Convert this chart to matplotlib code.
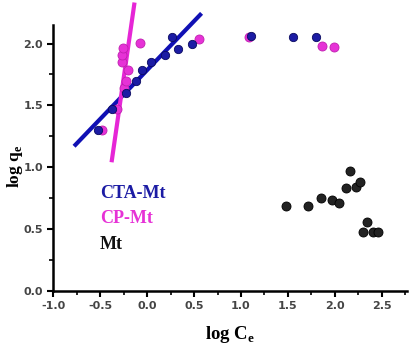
import matplotlib
matplotlib.use("Agg")
import matplotlib.pyplot as plt
import numpy as np
from matplotlib.ticker import MultipleLocator

# CTA-Mt
cta_x = [-0.52, -0.37, -0.23, -0.12, -0.06, 0.04, 0.19, 0.26, 0.33, 0.48, 1.11, 1.56, 1.80]
cta_y = [1.30, 1.475, 1.60, 1.70, 1.785, 1.85, 1.905, 2.05, 1.955, 1.995, 2.06, 2.055, 2.05]
# CP-Mt
cp_x = [-0.48, -0.32, -0.25, -0.23, -0.20, -0.27, -0.27, -0.26, -0.08, 0.55, 1.09, 1.86, 1.99]
cp_y = [1.30, 1.475, 1.64, 1.70, 1.785, 1.85, 1.905, 1.965, 2.005, 2.04, 2.055, 1.98, 1.97]
# Mt
mt_x = [1.48, 1.72, 1.85, 1.97, 2.05, 2.12, 2.16, 2.23, 2.27, 2.34, 2.30, 2.41, 2.46]
mt_y = [0.687, 0.687, 0.749, 0.735, 0.713, 0.834, 0.969, 0.843, 0.878, 0.56, 0.474, 0.474, 0.474]

# linear fits: (slope, intercept, x range)
cta_fit = (0.79, 1.786, [-0.78, 0.58])
cp_fit = (5.27, 3.043, [-0.38, -0.135])

legend_labels = ["CTA-Mt", "CP-Mt", "Mt"]

blue = "#1c1ca4"
pink = "#e632d6"
black = "#111111"

fig = plt.figure(figsize=(4.11, 3.5), dpi=100)
ax = fig.add_axes([0.130, 0.1686, 0.860, 0.760])

for (s, b, xr), c in [(cta_fit, "#1010b4"), (cp_fit, "#e626d6")]:
    xs = np.array(xr)
    ax.plot(xs, s * xs + b, color=c, lw=3.0, solid_capstyle="butt", clip_on=False, zorder=2)

ax.plot(cp_x, cp_y, "o", color=pink, mec="#c020b0", ms=6.5, mew=0.6, zorder=3)
ax.plot(cta_x, cta_y, "o", color=blue, mec="#0a0a60", ms=6, mew=0.6, zorder=4)
ax.plot(mt_x, mt_y, "o", color="#222222", mec="#000000", ms=6.5, mew=0.6, zorder=4)

ax.set_xlim(-1.0, 2.77)
ax.set_ylim(0.0, 2.15)
ax.xaxis.set_major_locator(MultipleLocator(0.5))
ax.xaxis.set_minor_locator(MultipleLocator(0.25))
ax.yaxis.set_major_locator(MultipleLocator(0.5))
ax.yaxis.set_minor_locator(MultipleLocator(0.25))
ax.xaxis.set_major_formatter(matplotlib.ticker.FormatStrFormatter("%.1f"))
ax.yaxis.set_major_formatter(matplotlib.ticker.FormatStrFormatter("%.1f"))

for sp in ["top", "right"]:
    ax.spines[sp].set_visible(False)
for sp in ["left", "bottom"]:
    ax.spines[sp].set_linewidth(1.8)
ax.tick_params(which="major", direction="out", length=4, width=1.5, labelsize=8, labelcolor="#444444")
ax.tick_params(which="minor", direction="out", length=3, width=1.2)
for lab in ax.get_xticklabels() + ax.get_yticklabels():
    lab.set_fontweight("bold")

ax.set_xlabel(r"log C$_\mathregular{e}$", fontsize=13.5, fontweight="bold", family="Liberation Serif")
ax.set_ylabel(r"log q$_\mathregular{e}$", fontsize=12.5, fontweight="bold", family="Liberation Serif")
ax.xaxis.set_label_coords(0.5, -0.125)
ax.yaxis.set_label_coords(-0.08, 0.47)

colors = [blue, pink, black]
legend_y = [0.368, 0.274, 0.173]
for lab, c, yy in zip(legend_labels, colors, legend_y):
    ax.text(0.132, yy, lab, color=c, fontsize=13, fontweight="bold",
            family="Liberation Serif", transform=ax.transAxes, va="center", ha="left")

fig.savefig("out.png", dpi=100)
